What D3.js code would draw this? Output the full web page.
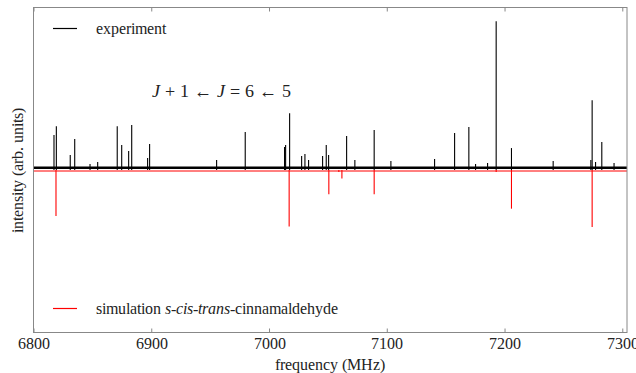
<!DOCTYPE html>
<html>
<head>
<meta charset="utf-8">
<script src="https://cdn.jsdelivr.net/npm/d3@7"></script>
<style>
  @font-face { font-family: "ChartSerif"; src: local("Liberation Serif"), local("LiberationSerif"), local("Times New Roman"); font-style: normal; }
  @font-face { font-family: "ChartSerif"; src: local("Liberation Serif Italic"), local("LiberationSerif-Italic"), local("Times New Roman Italic"); font-style: italic; }
</style>
</head>
<body style="margin:0">
<script>
// experiment peaks: frequency (MHz) and intensity (arb. units)
const expFreq = [6817.4, 6819.4, 6831.2, 6835.0, 6848.0, 6854.5, 6871.1, 6874.9, 6880.8, 6883.4,
  6896.9, 6898.6, 6955.5, 6979.8, 7013.2, 7014.1, 7017.5, 7027.7, 7030.5, 7033.6,
  7045.5, 7048.6, 7050.6, 7065.9, 7072.9, 7089.3, 7103.5, 7140.6, 7157.6, 7169.7,
  7175.4, 7185.6, 7192.9, 7205.9, 7241.3, 7273.3, 7274.4, 7277.3, 7282.6, 7293.0]
const expInt = [0.215, 0.270, 0.092, 0.191, 0.037, 0.049, 0.270, 0.154, 0.117, 0.277,
  0.074, 0.160, 0.061, 0.234, 0.141, 0.154, 0.350, 0.086, 0.098, 0.061,
  0.086, 0.154, 0.092, 0.209, 0.061, 0.246, 0.055, 0.068, 0.227, 0.264,
  0.037, 0.043, 0.916, 0.135, 0.055, 0.061, 0.430, 0.049, 0.172, 0.043]

// simulated transitions (drawn downwards)
const simFreq = [6819.1, 7017.1, 7050.8, 7059.3, 7061.9, 7089.3, 7192.9, 7205.9, 7274.4]
const simInt = [-0.283, -0.348, -0.149, -0.012, -0.053, -0.149, -0.012, -0.238, -0.350]

const noiseLevel = 0.014   // average height of the experimental noise band
const xTicks = [6800, 6900, 7000, 7100, 7200, 7300]
const xDomain = [6800, 7304]
const yDomain = [-1, 1]

const fontName = '"ChartSerif", "Liberation Serif", "Times New Roman", serif'

var width = 636, height = 373
var margin = { top: 7.5, right: 9, bottom: 40.5, left: 33.5 }
var w = width - margin.left - margin.right,
    h = height - margin.top - margin.bottom

let x = d3.scaleLinear().domain(xDomain).range([0, w])
let y = d3.scaleLinear().domain(yDomain).range([h, 0])

let svg = d3.select('body').append('svg')
    .attr('width', width)
    .attr('height', height)
    .style('font-family', fontName)
let g = svg.append('g')
    .attr('transform', `translate(${margin.left}, ${margin.top})`)

let line = d3.line().x(d => x(d[0])).y(d => y(d[1]))

// simulation baseline + sticks
g.append('path')
    .datum(xDomain.map(f => [f, 0]))
    .attr('fill', 'none').attr('stroke', '#ff0000').attr('stroke-width', 1)
    .attr('d', line)
    .attr('transform', 'translate(0,1)')
g.selectAll('.sim').data(simFreq).enter().append('path')
    .attr('class', 'sim')
    .attr('fill', 'none').attr('stroke', '#ff0000').attr('stroke-width', 1.1)
    .attr('d', (f, i) => line([[f, 0], [f, simInt[i]]]))

// experiment noise band
g.append('path')
    .datum(xDomain.map(f => [f, noiseLevel]))
    .attr('fill', 'none').attr('stroke', '#000').attr('stroke-width', 2.6)
    .attr('d', line)

// experiment peaks
g.selectAll('.exp').data(expFreq).enter().append('path')
    .attr('class', 'exp')
    .attr('fill', 'none').attr('stroke', '#000').attr('stroke-width', 1.1)
    .attr('d', (f, i) => line([[f, 0], [f, expInt[i]]]))

// frame
g.append('rect')
    .attr('width', w).attr('height', h)
    .attr('fill', 'none').attr('stroke', '#888').attr('stroke-width', 1)

// x axis (ticks inward, top and bottom)
let xb = g.append('g')
    .attr('transform', `translate(0, ${h})`)
    .call(d3.axisBottom(x).tickValues(xTicks).tickFormat(d3.format('d'))
        .tickSizeInner(-4).tickSizeOuter(0).tickPadding(5))
let xt = g.append('g')
    .call(d3.axisTop(x).tickValues(xTicks).tickSizeInner(-4).tickSizeOuter(0).tickFormat(''))
svg.selectAll('.domain').remove()
svg.selectAll('.tick line').attr('stroke', '#888')
svg.selectAll('g').attr('font-family', null)
xb.selectAll('text').attr('font-size', 16)

svg.append('text')
    .attr('x', margin.left + w / 2).attr('y', 370)
    .attr('text-anchor', 'middle').attr('font-size', 16)
    .text('frequency (MHz)')

svg.append('text')
    .attr('transform', `translate(23, ${margin.top + h / 2}) rotate(-90)`)
    .attr('text-anchor', 'middle').attr('font-size', 16)
    .text('intensity (arb. units)')

// annotation
let ann = svg.append('text')
    .attr('x', 152).attr('y', 97).attr('font-size', 17.5)
ann.append('tspan').attr('font-style', 'italic').text('J')
ann.append('tspan').text(' + 1 \u2190 ')
ann.append('tspan').attr('font-style', 'italic').text('J')
ann.append('tspan').text(' = 6 \u2190 5')

// legend
svg.append('line')
    .attr('x1', 53).attr('x2', 77).attr('y1', 28.5).attr('y2', 28.5)
    .attr('stroke', '#000').attr('stroke-width', 1.2)
svg.append('text')
    .attr('x', 96).attr('y', 34).attr('font-size', 16)
    .text('experiment')
svg.append('line')
    .attr('x1', 53).attr('x2', 77).attr('y1', 308.5).attr('y2', 308.5)
    .attr('stroke', '#ff0000').attr('stroke-width', 1.2)
let leg = svg.append('text')
    .attr('x', 96).attr('y', 314).attr('font-size', 16)
leg.append('tspan').text('simulation ')
leg.append('tspan').attr('font-style', 'italic').text('s')
leg.append('tspan').text('-')
leg.append('tspan').attr('font-style', 'italic').text('cis')
leg.append('tspan').text('-')
leg.append('tspan').attr('font-style', 'italic').text('trans')
leg.append('tspan').text('-cinnamaldehyde')

svg.selectAll('text')
    .attr('fill', '#222')
    .style('font-family', fontName)
</script>
</body>
</html>
